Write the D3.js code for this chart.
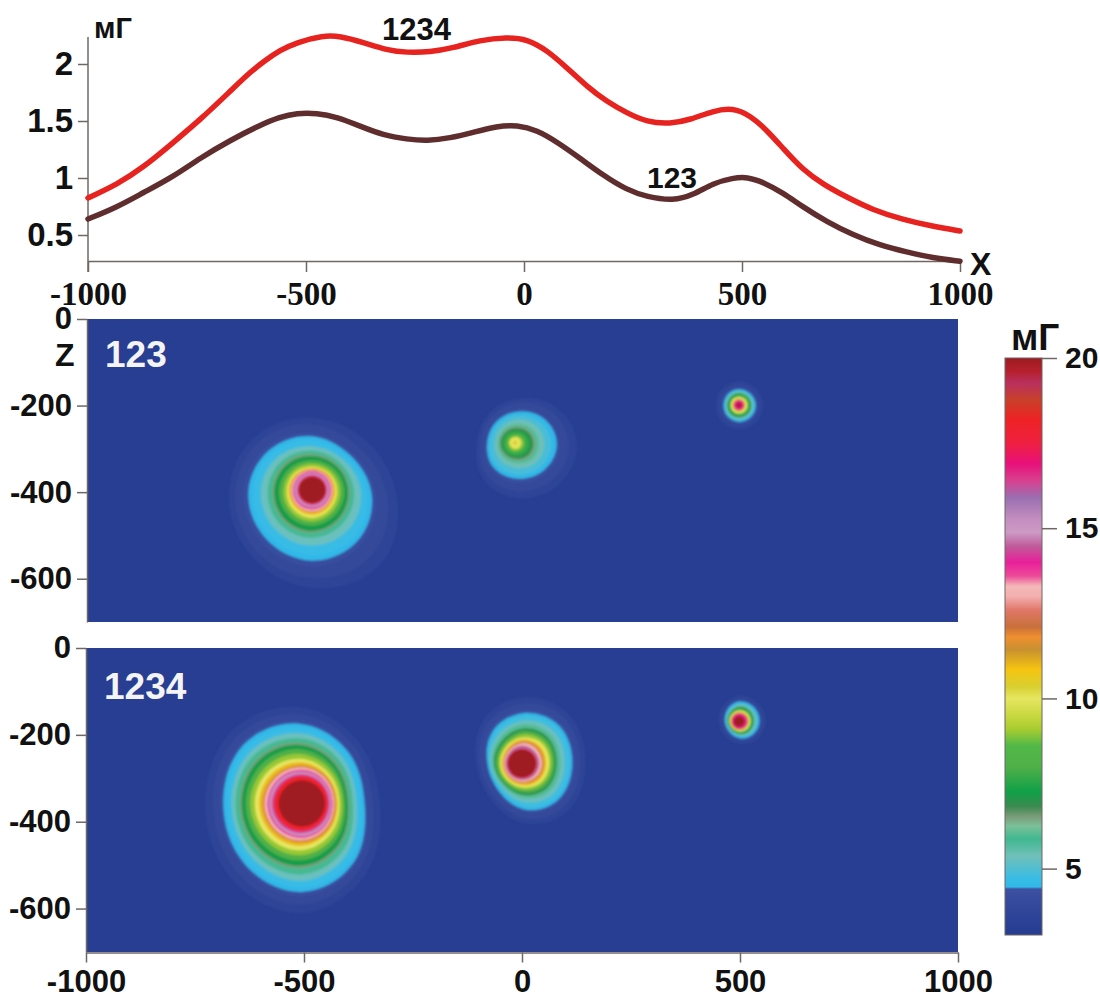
<!DOCTYPE html>
<html>
<head>
<meta charset="utf-8">
<script src="https://cdn.jsdelivr.net/npm/d3@7"></script>
<style>
  body { margin: 0; background: #fff; }
  svg { display: block; }
  text { font-family: "Liberation Sans", Arial, sans-serif; font-weight: bold; fill: #111; }
  .axis text { font-size: 31px; }
  .axis path, .axis line { stroke: #6f6764; stroke-width: 1.5; }
</style>
</head>
<body>
<svg id="chart" width="1100" height="999"></svg>
<script>
// profile curves
const profile1234X = [-1000, -933, -874, -805, -743, -674, -628, -594, -560, -521, -461, -422, -369, -314, -268, -216, -163, -101, -39, 7, 53, 99, 145, 190, 236, 282, 335, 381, 434, 479, 518, 557, 594, 640, 686, 741, 800, 869, 938, 1000];
const profile1234 = [0.825, 0.945, 1.09, 1.31, 1.51, 1.76, 1.93, 2.03, 2.12, 2.19, 2.25, 2.245, 2.19, 2.12, 2.10, 2.105, 2.14, 2.21, 2.235, 2.22, 2.12, 1.965, 1.80, 1.67, 1.57, 1.49, 1.475, 1.51, 1.59, 1.615, 1.55, 1.42, 1.26, 1.07, 0.945, 0.83, 0.72, 0.635, 0.575, 0.535];
const profile123X = [-1000, -933, -874, -805, -743, -674, -605, -560, -521, -475, -429, -376, -323, -268, -222, -170, -117, -62, -16, 30, 76, 128, 181, 236, 282, 342, 388, 434, 479, 512, 548, 594, 640, 695, 755, 816, 878, 938, 1000];
const profile123 = [0.64, 0.745, 0.87, 1.01, 1.175, 1.33, 1.465, 1.535, 1.57, 1.57, 1.535, 1.455, 1.375, 1.34, 1.325, 1.35, 1.40, 1.455, 1.465, 1.42, 1.315, 1.175, 1.025, 0.895, 0.835, 0.80, 0.85, 0.955, 1.00, 1.01, 0.965, 0.87, 0.745, 0.615, 0.50, 0.41, 0.35, 0.30, 0.27];

// colour bar, value -> colour
const barValues = [3.05, 3.23, 4.4, 4.46, 4.7, 5.37, 5.87, 6.25, 6.54, 6.83, 7.25, 8, 8.6, 9.1, 9.5, 10, 10.35, 10.85, 11.44, 11.8, 12.1, 12.6, 13, 13.3, 13.6, 14, 14.46, 14.87, 15.25, 15.9, 16.4, 16.9, 17.5, 18.2, 18.77, 19.27, 19.6, 20];
const barColors = ["#263d92", "#273e92", "#3d50a2", "#30b8e8", "#38bce6", "#70c0b8", "#40b890", "#7cc098", "#7a9a78", "#3a8a50", "#10a048", "#50b048", "#50b848", "#a8cc30", "#c8d840", "#e6e660", "#d8d030", "#f5c410", "#c89030", "#f09030", "#c8703a", "#e07868", "#f4b0b0", "#f4b8b8", "#ec4a98", "#e8209a", "#c05a98", "#cc9ac4", "#c48fc0", "#9a6eb0", "#d8408f", "#e8107a", "#ee2040", "#ee2224", "#c8402a", "#b9305e", "#b5202c", "#9e1b20"];
const panelLevel = 3.2;

// anomaly outlines: level, then radius (m) towards E, NE, N, NW, W, SW, S, SE
const blob123A = [-483, -395];
const rings123A = [
  [3.6, 190, 165, 165, 180, 190, 205, 228, 240],
  [3.9, 170, 140, 150, 165, 175, 190, 205, 208],
  [4.2, 146, 122, 132, 145, 158, 168, 180, 170],
  [4.46, 136, 114, 124, 134, 147, 154, 166, 158],
  [4.7, 124, 106, 114, 125, 135, 142, 153, 146],
  [5.3, 112, 98, 100, 110, 118, 124, 130, 124],
  [5.9, 96, 88, 90, 96, 102, 108, 112, 104],
  [6.5, 86, 82, 82, 88, 91, 97, 100, 93],
  [7.2, 82, 78, 78, 83, 87, 92, 96, 89],
  [8, 74, 70, 68, 72, 76, 80, 84, 78],
  [9, 65, 62, 60, 63, 66, 70, 74, 68],
  [10, 57, 55, 53, 56, 58, 62, 66, 60],
  [10.9, 53, 52, 50, 52, 54, 56, 59, 55],
  [12, 49, 49, 48, 49, 50, 51, 53, 50],
  [13.2, 47, 47, 46, 47, 48, 49, 50, 48],
  [14, 43, 43, 43, 43, 44, 45, 45, 44],
  [15.1, 40, 40, 40, 40, 41, 41, 41, 41],
  [16.4, 35, 35, 35, 35, 35, 35, 35, 35],
  [18.5, 32, 32, 32, 32, 32, 32, 32, 32],
  [20, 30, 30, 30, 30, 30, 30, 30, 30]
];
const blob123B = [-17, -286];
const rings123B = [
  [3.6, 145, 125, 100, 90, 84, 112, 128, 140],
  [3.9, 125, 110, 90, 80, 76, 100, 112, 122],
  [4.2, 105, 92, 78, 70, 68, 84, 94, 102],
  [4.46, 98, 86, 70, 64, 62, 76, 82, 92],
  [4.9, 84, 74, 62, 57, 56, 66, 72, 82],
  [5.4, 68, 62, 52, 47, 46, 52, 58, 68],
  [6, 54, 50, 42, 39, 39, 42, 46, 55],
  [6.5, 46, 42, 37, 35, 36, 37, 40, 47],
  [7, 42, 38, 33, 32, 33, 34, 36, 42],
  [7.6, 34, 30, 27, 28, 28, 30, 30, 34],
  [8.4, 25, 24, 20, 21, 21, 23, 24, 25],
  [9.2, 18, 17, 15, 15, 15, 16, 17, 18],
  [10, 13, 13, 12, 12, 12, 12, 13, 13],
  [10.3, 6, 6, 6, 6, 6, 6, 6, 6]
];
const blob123C = [497, -199];
const rings123C = [
  [3.6, 56, 54, 54, 54, 52, 54, 56, 56],
  [4.0, 46, 45, 45, 45, 43, 45, 46, 46],
  [4.46, 39, 37, 37, 36, 35, 37, 39, 39],
  [5.3, 34, 33, 33, 32, 31, 33, 34, 34],
  [6, 30, 30, 30, 29, 28, 30, 30, 30],
  [7, 28, 27, 27, 26, 26, 27, 28, 28],
  [8.5, 24, 24, 23, 23, 22, 23, 24, 24],
  [10, 19, 19, 19, 19, 18, 19, 19, 19],
  [12, 14, 14, 14, 14, 14, 14, 14, 14],
  [14, 11, 11, 11, 11, 11, 11, 11, 11],
  [17, 8, 8, 8, 8, 8, 8, 8, 8],
  [20, 5, 5, 5, 5, 5, 5, 5, 5]
];
const blob1234A = [-505, -358];
const rings1234A = [
  [3.6, 170, 190, 225, 235, 216, 236, 260, 220],
  [3.9, 153, 176, 208, 218, 198, 216, 240, 202],
  [4.2, 141, 164, 194, 202, 184, 198, 220, 190],
  [4.46, 135, 158, 186, 193, 176, 190, 210, 182],
  [4.7, 127, 150, 176, 183, 167, 180, 199, 172],
  [5.3, 118, 140, 164, 170, 158, 168, 184, 156],
  [5.9, 110, 130, 152, 158, 150, 157, 168, 144],
  [6.5, 103, 121, 142, 146, 141, 146, 153, 131],
  [7.2, 100, 116, 137, 141, 137, 141, 147, 127],
  [8, 95, 108, 127, 130, 128, 130, 134, 116],
  [9, 90, 100, 116, 118, 118, 118, 122, 106],
  [10, 84, 92, 104, 107, 108, 108, 110, 96],
  [11, 80, 86, 96, 97, 98, 97, 99, 89],
  [12, 76, 83, 88, 88, 90, 89, 90, 85],
  [13.2, 73, 79, 84, 84, 86, 85, 86, 80],
  [14, 69, 74, 78, 78, 79, 79, 80, 75],
  [15.1, 67, 71, 74, 75, 75, 75, 76, 72],
  [16.4, 63, 66, 68, 68, 69, 69, 69, 66],
  [18, 59, 62, 63, 63, 63, 63, 63, 61],
  [20, 53, 53, 53, 53, 53, 53, 53, 53]
];
const blob1234B = [0, -266];
const rings1234B = [
  [3.6, 142, 158, 155, 135, 100, 105, 140, 155],
  [3.9, 130, 145, 140, 122, 92, 95, 128, 142],
  [4.2, 120, 132, 126, 110, 82, 84, 115, 128],
  [4.46, 113, 124, 117, 101, 76, 78, 108, 120],
  [4.8, 107, 117, 111, 95, 74, 73, 101, 113],
  [5.3, 96, 106, 100, 84, 72, 68, 90, 102],
  [6, 86, 95, 92, 76, 68, 64, 80, 92],
  [7, 78, 86, 82, 68, 64, 60, 73, 82],
  [8, 74, 80, 76, 62, 60, 58, 67, 76],
  [9, 68, 72, 68, 56, 54, 53, 60, 68],
  [10, 62, 66, 60, 52, 50, 50, 55, 62],
  [11, 55, 58, 56, 48, 46, 46, 50, 56],
  [12, 50, 52, 52, 44, 42, 43, 45, 50],
  [13.2, 46, 47, 48, 41, 41, 41, 42, 45],
  [14.5, 40, 40, 42, 38, 38, 38, 38, 39],
  [16, 36, 36, 36, 36, 36, 36, 36, 36],
  [18.2, 34, 34, 34, 34, 34, 34, 34, 34],
  [20, 32, 32, 32, 32, 32, 32, 32, 32]
];
const blob1234C = [498, -169];
const rings1234C = [
  [3.6, 62, 60, 60, 52, 46, 46, 52, 58],
  [4.0, 54, 52, 52, 44, 40, 38, 44, 50],
  [4.46, 47, 47, 47, 38, 32, 32, 39, 44],
  [5.3, 41, 41, 41, 33, 29, 28, 34, 39],
  [6, 36, 37, 37, 30, 27, 26, 31, 35],
  [7, 33, 34, 34, 28, 26, 25, 29, 32],
  [8.5, 29, 30, 29, 25, 24, 23, 26, 28],
  [10, 26, 26, 25, 23, 22, 21, 23, 25],
  [12, 22, 22, 21, 20, 19, 19, 20, 21],
  [14, 18, 18, 18, 17, 16, 16, 17, 18],
  [17, 14, 14, 14, 14, 14, 14, 14, 14],
  [20, 12, 12, 12, 12, 12, 12, 12, 12]
];

const xTicks = [-1000, -500, 0, 500, 1000];
const zTicks = [0, -200, -400, -600];
const profileTicks = [0.5, 1, 1.5, 2];
const barTicks = [5, 10, 15, 20];

const svg = d3.select("#chart");

const colorScale = d3.scaleLinear().domain(barValues).range(barColors).clamp(true);

// unit vectors for the eight ring directions E, NE, N ... (z grows upward)
const dirs = d3.range(8).map(i => [Math.cos(i * Math.PI / 4), Math.sin(i * Math.PI / 4)]);
// basis spline through 8 points pulls a circle in by this much
const basisShrink = (4 + 2 * Math.SQRT1_2) / 6;

const plainNumber = d => String(d);

// ---- profile on top ----
const xTop = d3.scaleLinear().domain([-1000, 1000]).range([88, 960]);
const yTop = d3.scaleLinear().domain([0.5, 2]).range([235, 64]);

svg.append("g").attr("class", "axis").attr("transform", "translate(0,261)")
    .call(d3.axisBottom(xTop).tickValues(xTicks).tickSize(11).tickSizeOuter(0).tickPadding(10).tickFormat(plainNumber))
    .selectAll("text")
    .style("font-family", '"Liberation Serif", "Times New Roman", serif')
    .style("font-size", "33px");

svg.append("g").attr("class", "axis").attr("transform", "translate(88,0)")
    .call(d3.axisLeft(yTop).tickValues(profileTicks).tickSize(10).tickSizeOuter(0).tickPadding(5).tickFormat(plainNumber))
    .call(g => g.select(".domain").attr("d", "M0,37V272"))
    .selectAll("text").style("font-size", "33px");

const line = d3.line().x(d => xTop(d[0])).y(d => yTop(d[1])).curve(d3.curveBasis);
svg.append("path").datum(d3.zip(profile1234X, profile1234))
    .attr("d", line).attr("fill", "none").attr("stroke", "#e6231f").attr("stroke-width", 5.5).attr("stroke-linecap", "round");
svg.append("path").datum(d3.zip(profile123X, profile123))
    .attr("d", line).attr("fill", "none").attr("stroke", "#5f2d2d").attr("stroke-width", 5.5).attr("stroke-linecap", "round");

svg.append("text").attr("x", 94).attr("y", 38).style("font-size", "29px").text("мГ");
svg.append("text").attr("x", 382).attr("y", 40).style("font-size", "31px").text("1234");
svg.append("text").attr("x", 647).attr("y", 188).style("font-size", "30px").text("123");
svg.append("text").attr("x", 970).attr("y", 275).style("font-size", "32px").text("X");

// ---- heat panels ----
const defs = svg.append("defs");
defs.append("filter").attr("id", "soft").attr("x", "-5%").attr("y", "-5%").attr("width", "110%").attr("height", "110%")
    .append("feGaussianBlur").attr("stdDeviation", 0.9);

function heatPanel(id, top, bottom, left, blobs, label, labelY) {
    const x = d3.scaleLinear().domain([-1000, 1000]).range([left, 958]);
    const z = d3.scaleLinear().domain([0, -700]).range([top, bottom]);

    defs.append("clipPath").attr("id", id)
        .append("rect").attr("x", left).attr("y", top).attr("width", 958 - left).attr("height", bottom - top);

    const holder = svg.append("g").attr("clip-path", `url(#${id})`);
    holder.append("rect").attr("x", left).attr("y", top).attr("width", 958 - left).attr("height", bottom - top)
        .attr("fill", colorScale(panelLevel));

    const ringLine = d3.line().x(d => x(d[0])).y(d => z(d[1])).curve(d3.curveBasisClosed);
    const inner = holder.append("g").attr("filter", "url(#soft)");

    blobs.forEach(([center, rings]) => {
        inner.selectAll(null)
            .data(rings)
            .enter()
            .append("path")
            .attr("fill", d => colorScale(d[0]))
            .attr("d", d => ringLine(d.slice(1).map((r, i) => [
                center[0] + r / basisShrink * dirs[i][0],
                center[1] + r / basisShrink * dirs[i][1]
            ])));
    });

    svg.append("g").attr("class", "axis").attr("transform", `translate(${left},0)`)
        .call(d3.axisLeft(z).tickValues(zTicks).tickSize(10).tickSizeOuter(0).tickPadding(5).tickFormat(plainNumber));

    svg.append("text").attr("x", left + 18).attr("y", labelY).style("font-size", "37px").style("fill", "#f4f4f4").text(label);
    return x;
}

heatPanel("panel123", 319, 622, 87, [[blob123A, rings123A], [blob123B, rings123B], [blob123C, rings123C]], "123", 367);
const xBottom = heatPanel("panel1234", 648, 952, 86, [[blob1234A, rings1234A], [blob1234B, rings1234B], [blob1234C, rings1234C]], "1234", 699);

svg.append("text").attr("x", 55).attr("y", 366).style("font-size", "32px").text("Z");

svg.append("g").attr("class", "axis").attr("transform", "translate(0,952.5)")
    .call(d3.axisBottom(xBottom).tickValues(xTicks).tickSize(10).tickSizeOuter(0).tickPadding(7).tickFormat(plainNumber))
    .selectAll("text").style("font-size", "31px");

// ---- colour bar ----
const yBar = d3.scaleLinear().domain([3.05, 20]).range([935, 358]);
const gradient = defs.append("linearGradient").attr("id", "barGradient").attr("x1", 0).attr("x2", 0).attr("y1", 1).attr("y2", 0);
gradient.selectAll("stop")
    .data(d3.zip(barValues, barColors))
    .enter()
    .append("stop")
    .attr("offset", d => (d[0] - 3.05) / (20 - 3.05))
    .attr("stop-color", d => d[1]);

svg.append("rect").attr("x", 1005).attr("y", yBar(20)).attr("width", 37).attr("height", yBar(3.05) - yBar(20))
    .attr("fill", "url(#barGradient)").attr("stroke", "#6f6764").attr("stroke-width", 1);

svg.append("g").attr("class", "axis").attr("transform", "translate(1042,0)")
    .call(d3.axisRight(yBar).tickValues(barTicks).tickSize(15).tickSizeOuter(0).tickPadding(8))
    .call(g => g.select(".domain").remove())
    .selectAll("text").style("font-size", "30px");

svg.append("text").attr("x", 1011).attr("y", 350).style("font-size", "37px").text("мГ");
</script>
</body>
</html>
